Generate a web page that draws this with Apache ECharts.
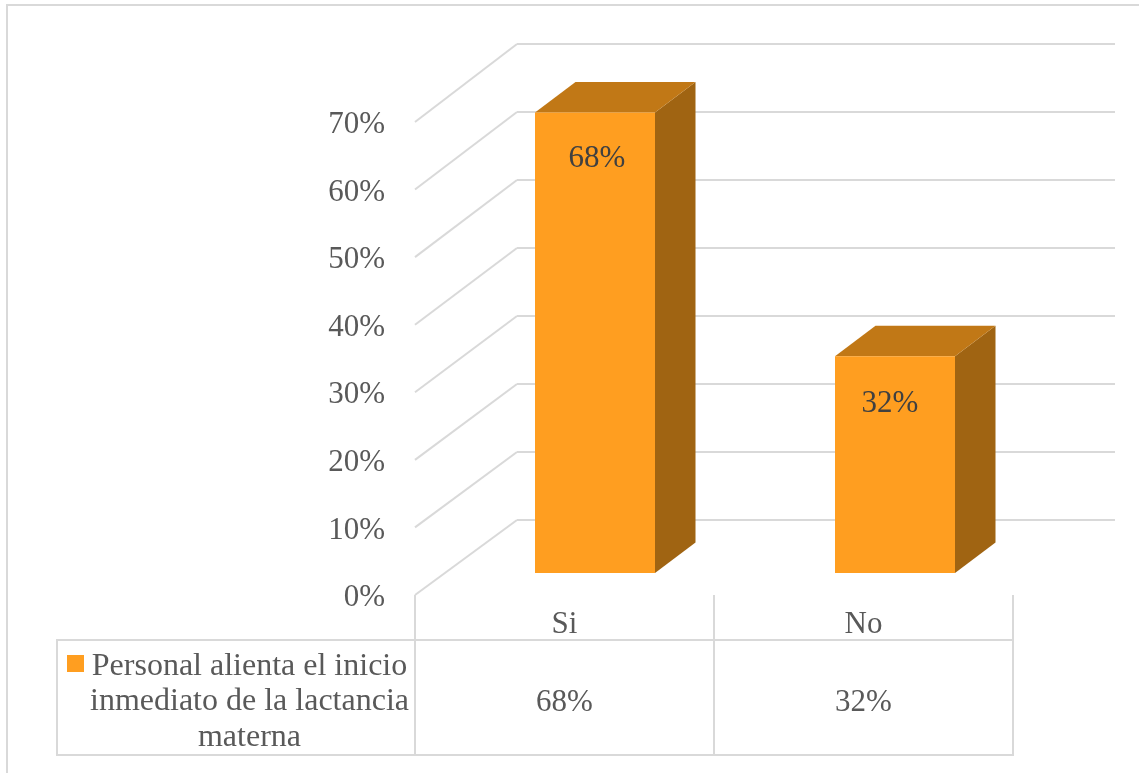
<!DOCTYPE html>
<html>
<head>
<meta charset="utf-8">
<style>html,body{margin:0;padding:0;background:#fff}#c{width:1139px;height:773px}</style>
<script src="https://cdn.jsdelivr.net/npm/echarts@6/dist/echarts.min.js"></script>
</head>
<body>
<div id="c"></div>
<script>
var categories = ['Si', 'No'];
var values = [68, 32];
var legendLines = ['Personal alienta el inicio', 'inmediato de la lactancia', 'materna'];
var yTicks = [0, 10, 20, 30, 40, 50, 60, 70];

var FONT = '"Liberation Serif","Times New Roman",serif';
var GREY = '#595959', LINE = '#D9D9D9';
var FRONT = '#FF9E20', TOP = '#C17816', SIDE = '#A06412';
var seriesName = legendLines.join(' ');

var chart = echarts.init(document.getElementById('c'), null, {renderer: 'canvas'});

function renderWall(params, api) {
  var v = api.value(1);
  var f = api.coord([0, v]);
  var b = chart.convertToPixel({xAxisIndex: 0, yAxisIndex: 0}, [0, v]);
  return {type: 'line', silent: true,
    shape: {x1: f[0], y1: f[1], x2: b[0], y2: b[1]},
    style: {stroke: LINE, lineWidth: 2}};
}

function renderBar(params, api) {
  var i = api.value(0), v = api.value(1);
  var top = api.coord([i, v]), base = api.coord([i, 0]);
  var w = api.size([1, 0])[0] * 0.4, dx = w * 0.3375, dy = -w * 0.2542;
  var l = top[0] - w / 2, r = top[0] + w / 2;
  var shiftX = i === 0 ? 2 : -5, shiftY = i === 0 ? 46 : 48;
  return {type: 'group', children: [
    {type: 'polygon', shape: {points: [[r, top[1]], [r + dx, top[1] + dy], [r + dx, base[1] + dy], [r, base[1]]]}, style: {fill: SIDE}},
    {type: 'polygon', shape: {points: [[l, top[1]], [l + dx, top[1] + dy], [r + dx, top[1] + dy], [r, top[1]]]}, style: {fill: TOP}},
    {type: 'rect', shape: {x: l, y: top[1], width: w, height: base[1] - top[1]}, style: {fill: FRONT}},
    {type: 'text', style: {text: v + '%', x: top[0] + shiftX, y: top[1] + shiftY, align: 'center', verticalAlign: 'middle',
      font: '31px ' + FONT, fill: '#404040'}}
  ]};
}

chart.setOption({
  animation: false,
  backgroundColor: '#fff',
  grid: [
    {left: 517, top: 44, width: 598, height: 476},
    {left: 415, top: 122, width: 598, height: 473},
    {left: 445, top: 99, width: 600, height: 474},
    {left: 415, top: 595, width: 598, height: 160},
    {left: 415, top: 125, width: 598, height: 473}
  ],
  xAxis: [
    {gridIndex: 0, type: 'value', min: 0, max: 1, show: false},
    {gridIndex: 1, type: 'value', min: 0, max: 1, show: false},
    {gridIndex: 2, type: 'category', data: categories, show: false},
    {gridIndex: 3, type: 'category', data: categories, position: 'top',
      axisLine: {show: false}, axisTick: {show: false},
      splitLine: {show: true, lineStyle: {color: LINE, width: 2}},
      axisLabel: {inside: true, margin: 14, color: GREY, fontFamily: FONT, fontSize: 31}},
    {gridIndex: 3, type: 'category', data: values.map(function (v) { return v + '%'; }), position: 'bottom',
      axisLine: {show: false}, axisTick: {show: false}, splitLine: {show: false},
      axisLabel: {inside: true, margin: 37, color: GREY, fontFamily: FONT, fontSize: 31}},
    {gridIndex: 4, type: 'value', min: 0, max: 1, show: false}
  ],
  yAxis: [
    {gridIndex: 0, type: 'value', min: 0, max: 70, interval: 10,
      axisLine: {show: false}, axisTick: {show: false}, axisLabel: {show: false},
      splitLine: {show: true, lineStyle: {color: LINE, width: 2}}},
    {gridIndex: 1, type: 'value', min: 0, max: 70, interval: 10, show: false},
    {gridIndex: 2, type: 'value', min: 0, max: 70, interval: 10, show: false},
    {gridIndex: 3, type: 'value', min: 0, max: 1, show: false},
    {gridIndex: 4, type: 'value', min: 0, max: 70, interval: 10,
      axisLine: {show: false}, axisTick: {show: false}, splitLine: {show: false},
      axisLabel: {margin: 30, color: GREY, fontFamily: FONT, fontSize: 31, formatter: '{value}%'}}
  ],
  legend: {
    left: 67, top: 649, padding: 0, selectedMode: false,
    itemWidth: 17, itemHeight: 106, itemGap: 0,
    data: [{name: seriesName, icon: 'path://M0 0L17 0M0 6H17V23H0ZM0 106L17 106'}],
    formatter: function () {
      return legendLines.map(function (s) { return '{a|' + s + '}'; }).join('\n');
    },
    textStyle: {rich: {a: {width: 321, align: 'center', lineHeight: 35.5, color: GREY, fontFamily: FONT, fontSize: 32}}}
  },
  series: [
    {type: 'custom', name: 'walls', xAxisIndex: 1, yAxisIndex: 1, silent: true, z: 1,
      renderItem: renderWall, encode: {x: 0, y: 1},
      data: yTicks.map(function (t) { return [0, t]; })},
    {type: 'custom', name: seriesName, xAxisIndex: 2, yAxisIndex: 2, z: 3,
      itemStyle: {color: FRONT},
      renderItem: renderBar, encode: {x: 0, y: 1},
      data: values.map(function (v, i) { return [i, v]; })}
  ],
  graphic: [
    {type: 'rect', silent: true, z: 0, shape: {x: 57, y: 640, width: 956, height: 115},
      style: {fill: 'none', stroke: LINE, lineWidth: 2}},
    {type: 'polyline', silent: true, z: 0, shape: {points: [[7, 773], [7, 5], [1139, 5]]},
      style: {fill: 'none', stroke: LINE, lineWidth: 2}}
  ]
});
</script>
</body>
</html>
